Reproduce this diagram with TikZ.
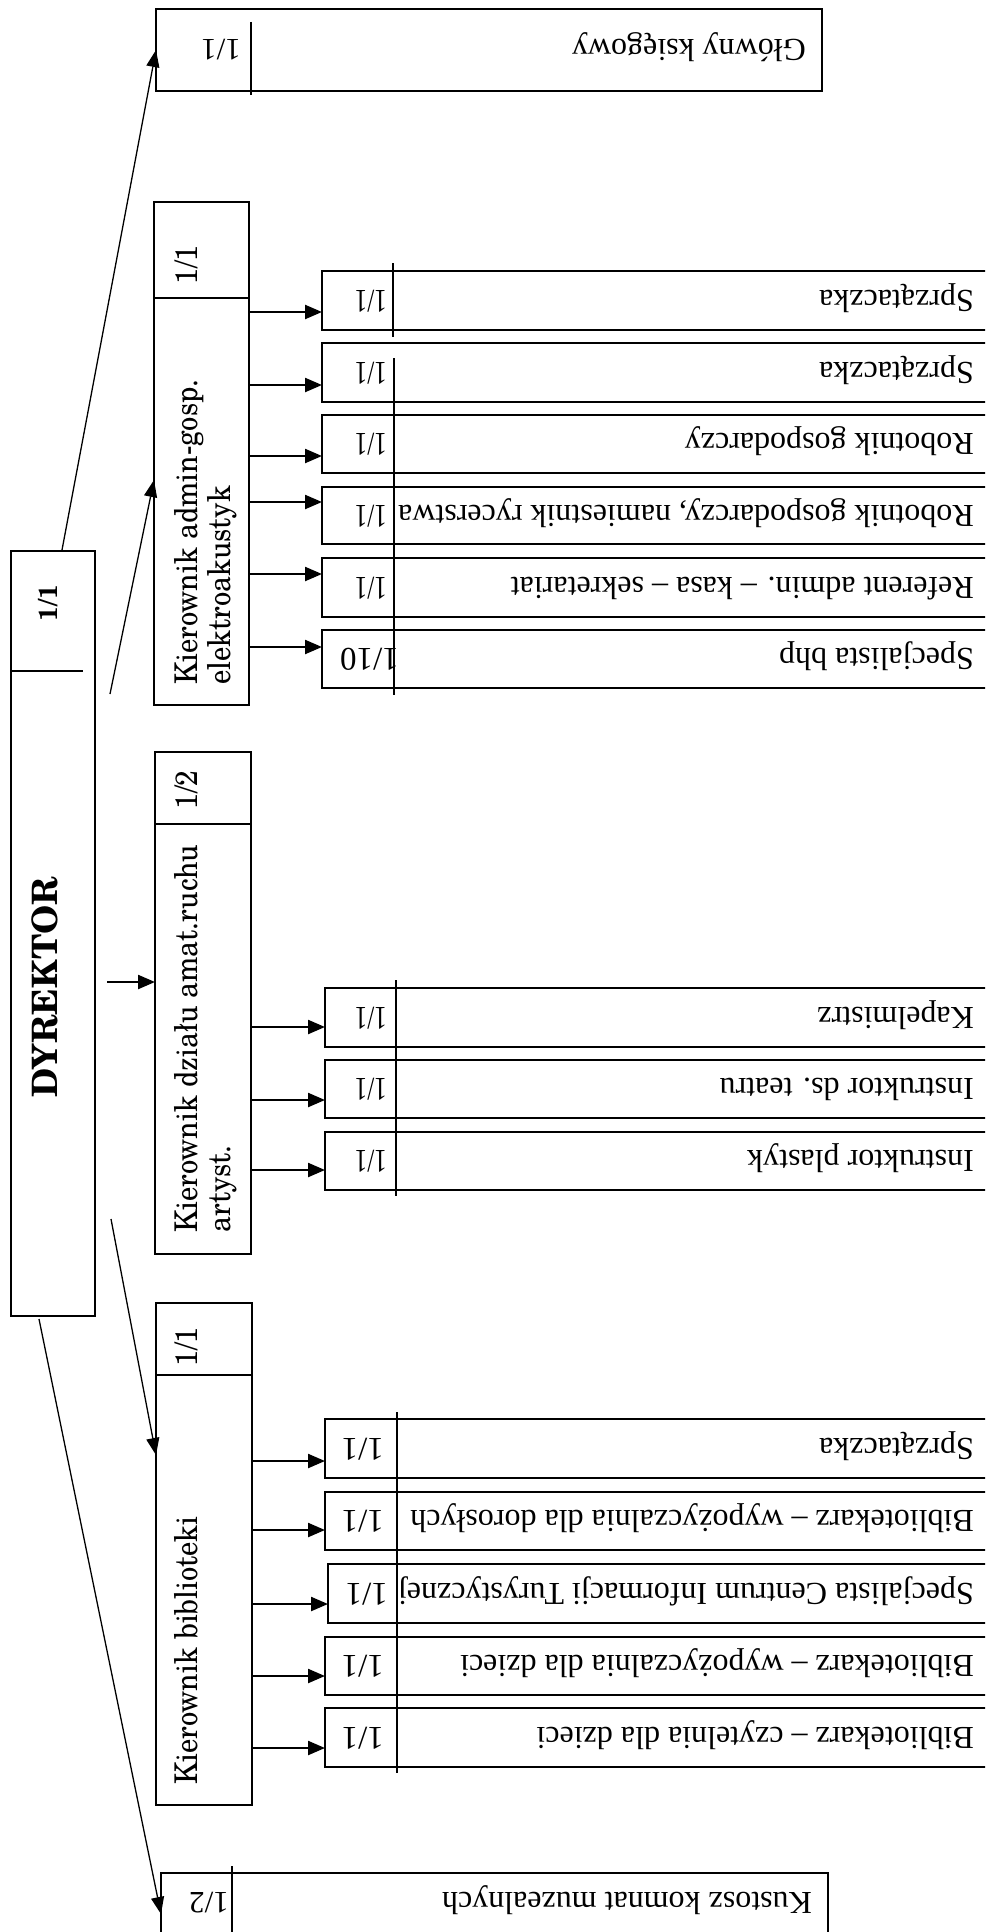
\documentclass[tikz,border=0pt]{standalone}
\usepackage{fontspec}
\setmainfont{Liberation Serif}
\newfontfamily\schola{TeX Gyre Schola}
\usetikzlibrary{arrows.meta}
\tikzset{
  box/.style={draw, line width=1.8pt, inner sep=0pt, outer sep=0pt},
  divider/.style={line width=1.8pt},
  stext/.style={rotate=180, inner sep=0pt, font=\fontsize{32}{36}\selectfont},
  snum/.style={rotate=180, inner sep=0pt, font=\fontsize{33}{36}\selectfont},
  snumn/.style={xscale=0.76, rotate=180, inner sep=0pt, font=\fontsize{33}{36}\selectfont},
  mtext/.style={xscale=1.1, rotate=90, inner sep=0pt, align=left, font=\schola\fontsize{28.5}{30}\selectfont},
  mnum/.style={xscale=1.1, rotate=90, inner sep=0pt, font=\schola\fontsize{28}{30}\selectfont},
  harr/.style={line width=2.3pt, -{Triangle[length=17pt,width=14pt]}},
  darr/.style={line width=1.3pt, -{Triangle[length=17pt,width=13pt]}},
}
\newcommand\stf[8]{%
  \node[box, anchor=north west, minimum width={995-#2}, minimum height={#4-#3}] (#1) at (#2,#3) {};
  \node[stext, anchor=base west] (#1t) at (974,{(#3+#4)/2-10.5}) {#5};
  \node[#8, anchor=base west] (#1n) at (#7,{(#3+#4)/2-10.5}) {#6};
}
\begin{document}
\begin{tikzpicture}[x=1pt,y=-1pt]
\useasboundingbox (0,0) rectangle (985,1932);
\clip (0,0) rectangle (985,1932);
\fill[white] (0,0) rectangle (985,1932);

% DYREKTOR
\node[box, anchor=north west, minimum width=84, minimum height=765] (dyr) at (11,551) {};
\draw[divider] (11,671) -- (83,671);
\node[rotate=90, inner sep=0pt, anchor=base, font=\schola\bfseries\fontsize{35}{40}\selectfont] (dyrt) at (57,987) {DYREKTOR};
\node[rotate=90, inner sep=0pt, anchor=base, font=\schola\bfseries\fontsize{26}{30}\selectfont] (dyrn) at (57,603) {1/1};

% managers
\node[box, anchor=north west, minimum width=95, minimum height=503] (adm) at (154,202) {};
\draw[divider] (154,298) -- (249,298);
\node[mtext, anchor=north west] (admt) at (174,685) {Kierownik admin-gosp.\\elektroakustyk};
\node[mnum, anchor=base] (admn) at (197,265) {1/1};

\node[box, anchor=north west, minimum width=96, minimum height=502] (amt) at (155,752) {};
\draw[divider] (155,824) -- (251,824);
\node[mtext, anchor=north west] (amtt) at (174,1233) {Kierownik działu amat.ruchu\\artyst.};
\node[mnum, anchor=base] (amtn) at (197,790) {1/2};

\node[box, anchor=north west, minimum width=96, minimum height=502] (bib) at (156,1303) {};
\draw[divider] (156,1375) -- (252,1375);
\node[mtext, anchor=north west] (bibt) at (174,1785) {Kierownik biblioteki};
\node[mnum, anchor=base] (bibn) at (197,1347) {1/1};

% top and bottom single boxes
\node[box, anchor=north west, minimum width=666, minimum height=82] (glo) at (156,9) {};
\draw[divider] (251,22) -- (251,95);
\node[stext, anchor=base west] (glot) at (806,40) {Główny księgowy};
\node[snum, font=\fontsize{31}{36}\selectfont, anchor=base west] (glon) at (241,40) {1/1};

\node[box, anchor=north west, minimum width=667, minimum height=82] (kus) at (161,1873) {};
\draw[divider] (232,1866) -- (232,1960);
\node[stext, anchor=base west] (kust) at (812,1892) {Kustosz komnat muzealnych};
\node[snum, font=\fontsize{31}{36}\selectfont, anchor=base west] (kusn) at (229,1892) {1/2};

% admin group
\stf{a1}{322}{271}{330}{Sprzątaczka}{1/1}{387}{snumn}
\stf{a2}{322}{343}{402}{Sprzątaczka}{1/1}{387}{snumn}
\stf{a3}{322}{415}{473}{Robotnik gospodarczy}{1/1}{387}{snumn}
\stf{a4}{322}{487}{544}{Robotnik gospodarczy, namiestnik rycerstwa}{1/1}{387}{snumn}
\stf{a5}{322}{558}{617}{Referent admin. – kasa – sekretariat}{1/1}{387}{snumn}
\stf{a6}{322}{630}{688}{Specjalista bhp}{1/10}{399}{snum}
\draw[divider] (393,263) -- (393,337);
\draw[divider] (394,358) -- (394,695);
\foreach \n/\y in {a1/312,a2/385,a3/456,a4/502,a5/574,a6/647}
  \draw[harr] (adm.east |- 0,\y) -- (\n.west |- 0,\y);

% amat group
\stf{b1}{325}{988}{1047}{Kapelmistrz}{1/1}{387}{snumn}
\stf{b2}{325}{1060}{1118}{Instruktor ds. teatru}{1/1}{387}{snumn}
\stf{b3}{325}{1132}{1190}{Instruktor plastyk}{1/1}{387}{snumn}
\draw[divider] (396,980) -- (396,1196);
\foreach \n/\y in {b1/1027,b2/1100,b3/1170}
  \draw[harr] (amt.east |- 0,\y) -- (\n.west |- 0,\y);

% library group
\stf{c1}{325}{1419}{1478}{Sprzątaczka}{1/1}{384}{snum}
\stf{c2}{325}{1492}{1550}{Bibliotekarz – wypożyczalnia dla dorosłych}{1/1}{384}{snum}
\stf{c3}{328}{1564}{1623}{Specjalista Centrum Informacji Turystycznej}{1/1}{388}{snum}
\stf{c4}{325}{1637}{1695}{Bibliotekarz – wypożyczalnia dla dzieci}{1/1}{384}{snum}
\stf{c5}{325}{1708}{1767}{Bibliotekarz – czytelnia dla dzieci}{1/1}{384}{snum}
\draw[divider] (397,1412) -- (397,1773);
\foreach \n/\y in {c1/1461,c2/1530,c3/1604,c4/1676,c5/1748}
  \draw[harr] (bib.east |- 0,\y) -- (\n.west |- 0,\y);

% connectors from DYREKTOR
\coordinate (s1) at (62,550);
\draw[darr] (s1) -- (glo.west);
\coordinate (s2) at (110,694);
\draw[darr] (s2) -- (adm.west |- 0,480);
\coordinate (s3) at (107,982);
\draw[harr] (s3) -- (amt.west |- 0,982);
\coordinate (s4) at (111,1219);
\draw[darr] (s4) -- (bib.west |- 0,1455);
\coordinate (s5) at (39,1319);
\draw[darr] (s5) -- (kus.west);
\end{tikzpicture}
\end{document}
